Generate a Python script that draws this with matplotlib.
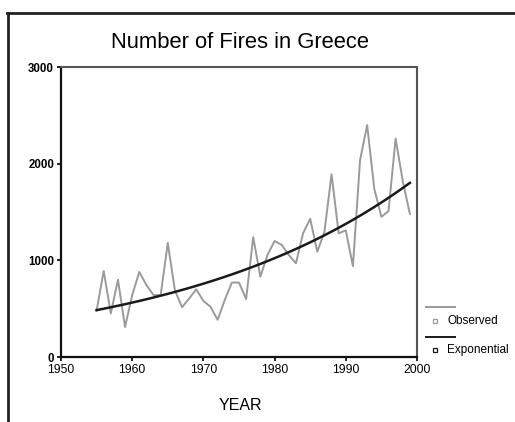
import numpy as np
import matplotlib
matplotlib.use("Agg")
import matplotlib.pyplot as plt
from matplotlib.lines import Line2D

plt.rcParams['font.family'] = ['Liberation Sans', 'DejaVu Sans']

# yearly fire counts
years = list(range(1955, 2000))
fires = [480, 890, 450, 800, 310, 640, 880, 745, 640, 640,
         1180, 690, 515, 605, 700, 580, 520, 385, 590, 770,
         770, 600, 1240, 830, 1055, 1200, 1160, 1055, 970, 1280,
         1430, 1090, 1295, 1890, 1280, 1310, 940, 2035, 2400, 1740,
         1450, 1510, 2260, 1820, 1480]

x_ticks = [1950, 1960, 1970, 1980, 1990, 2000]
y_ticks = [0, 1000, 2000, 3000]

# exponential curve estimation: ln(y) = ln(b0) + b1 * t
t = np.array(years, dtype=float)
b1, lnb0 = np.polyfit(t - t[0], np.log(fires), 1)
trend = np.exp(lnb0) * np.exp(b1 * (t - t[0]))

fig = plt.figure(figsize=(5.15, 4.22), dpi=100)
ax = fig.add_axes([0.1184, 0.154, 0.6913, 0.6872])

obs_color = '#9a9a9a'
ax.plot(years, fires, color=obs_color, lw=1.4)
ax.plot(years, trend, color='#1a1a1a', lw=1.8)

ax.set_xlim(1950, 2000)
ax.set_ylim(0, 3000)
ax.set_xticks(x_ticks)
ax.set_yticks(y_ticks)
ax.tick_params(axis='x', direction='out', length=3, width=1.2, labelsize=8.8, pad=2)
ax.tick_params(axis='y', direction='out', length=3, width=1.2, labelsize=8.3, pad=2)
for lbl in ax.get_yticklabels():
    lbl.set_fontweight('bold')

for side in ('left', 'bottom'):
    ax.spines[side].set_color('#111111')
    ax.spines[side].set_linewidth(1.6)
for side in ('top', 'right'):
    ax.spines[side].set_color('#555555')
    ax.spines[side].set_linewidth(1.5)

fig.text(240 / 515, 1 - 43 / 422, 'Number of Fires in Greece',
         ha='center', va='center', fontsize=15.8)
fig.text(240 / 515, 1 - 406 / 422, 'YEAR', ha='center', va='center', fontsize=11.5)

# legend block: line sample above, square marker + label beneath
W, H = 515, 422
legend_items = [('Observed', obs_color, 307, 321),
                ('Exponential', '#1a1a1a', 337, 350)]
for label, col, ly, my in legend_items:
    fig.add_artist(Line2D([426 / W, 455 / W], [1 - ly / H, 1 - ly / H],
                          color=col, lw=1.4, transform=fig.transFigure))
    fig.add_artist(Line2D([435 / W], [1 - my / H], marker='s', markersize=3.5,
                          markerfacecolor='white', markeredgecolor=col,
                          markeredgewidth=0.9, transform=fig.transFigure))
    fig.text(447 / W, 1 - my / H, label, ha='left', va='center', fontsize=8.5)

# outer frame edges
fig.add_artist(Line2D([7 / W, 1.0], [1 - 13 / H, 1 - 13 / H], color='#222222',
                      lw=2.0, transform=fig.transFigure))
fig.add_artist(Line2D([8 / W, 8 / W], [0.0, 1 - 13 / H], color='#222222',
                      lw=2.0, transform=fig.transFigure))

fig.savefig('out.png', dpi=100)
